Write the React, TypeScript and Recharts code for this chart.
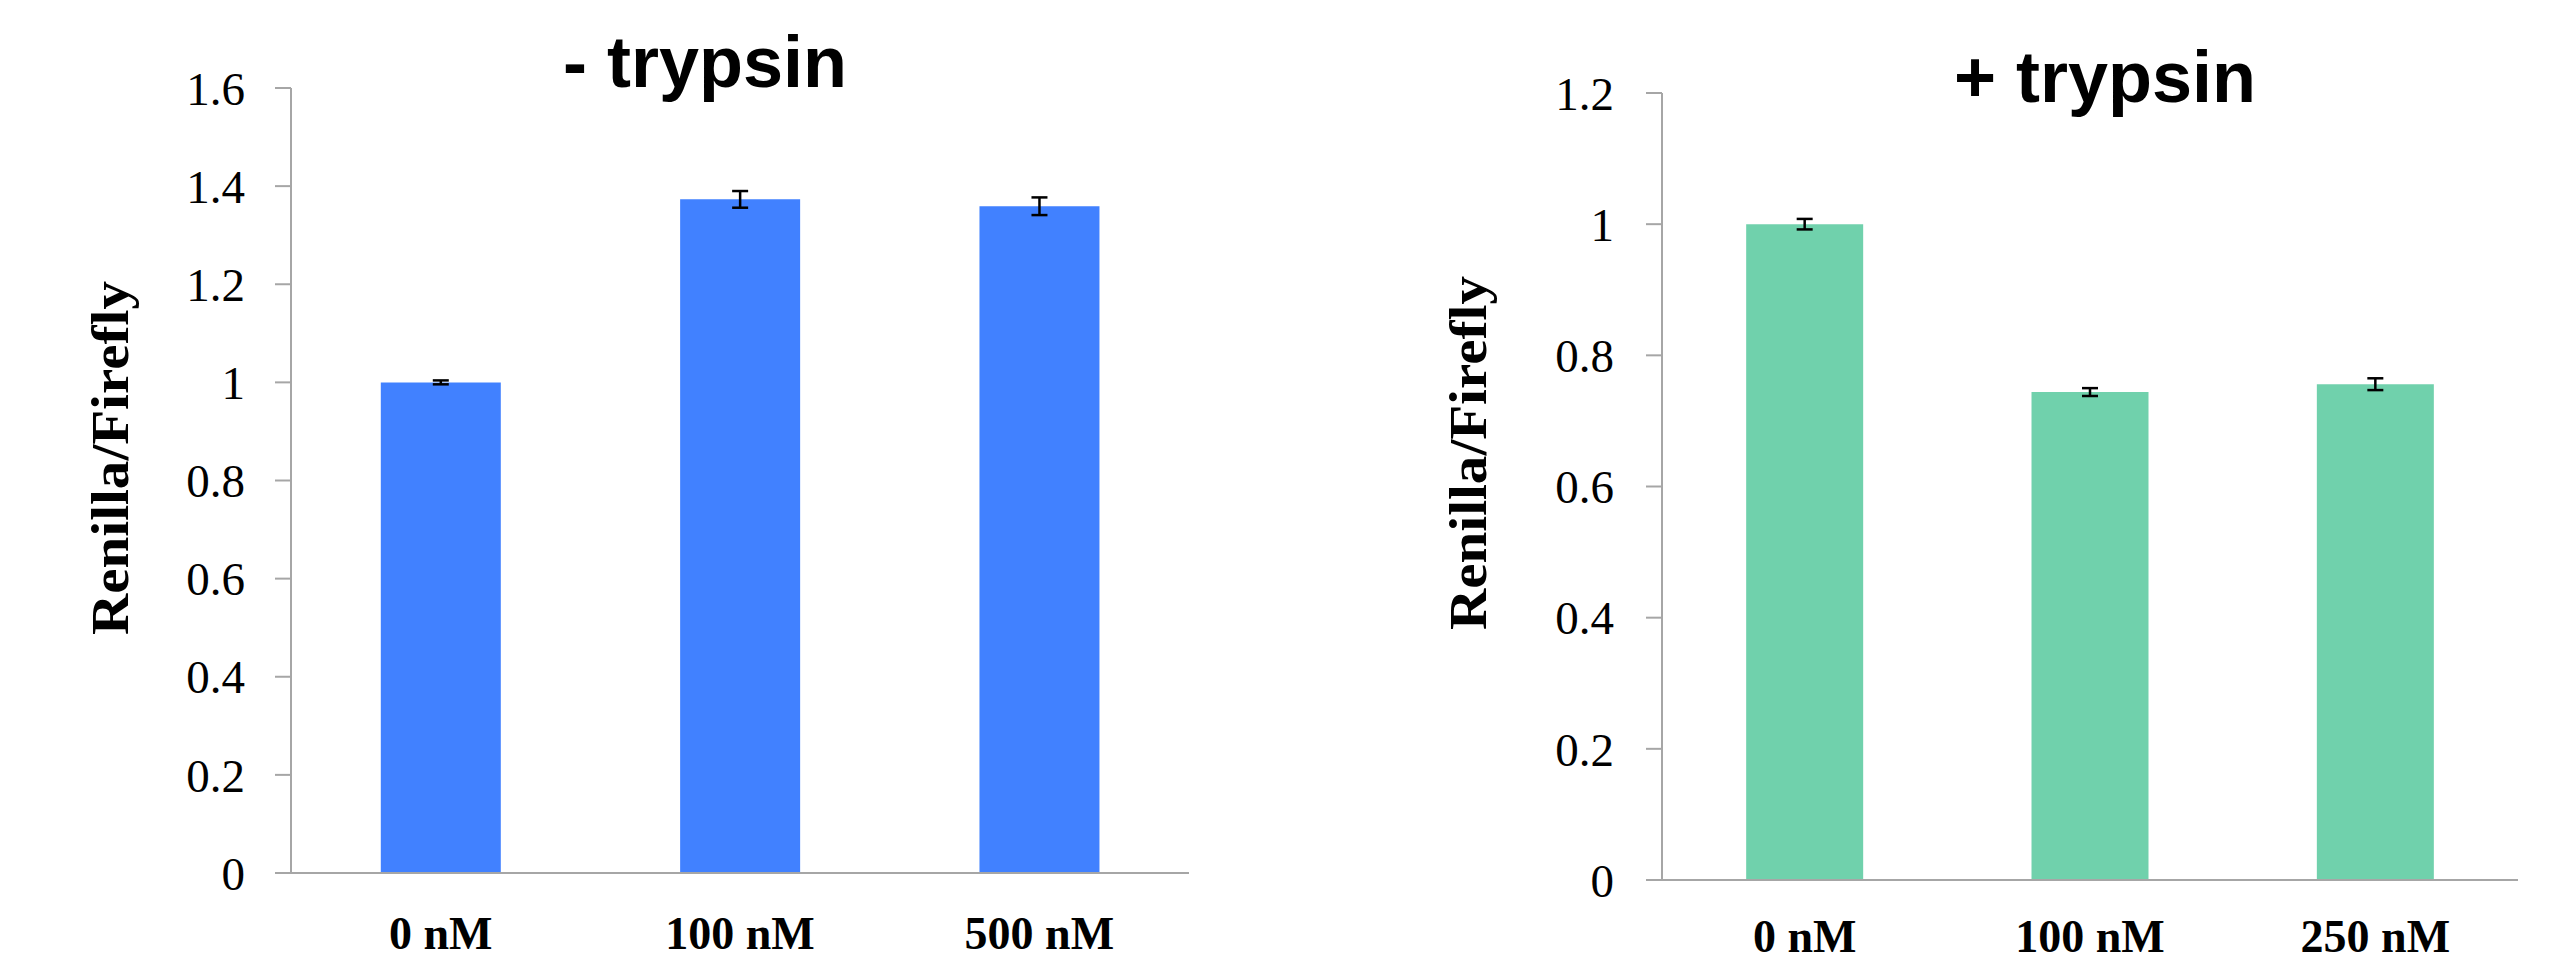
import { Bar, BarChart, ErrorBar, Label, XAxis, YAxis } from "recharts";

const leftCategories = ["0 nM", "100 nM", "500 nM"];
const leftValues = [1.0, 1.373, 1.359];
const leftErrors = [0.004, 0.017, 0.018];
const leftTicks = [0, 0.2, 0.4, 0.6, 0.8, 1, 1.2, 1.4, 1.6];

const rightCategories = ["0 nM", "100 nM", "250 nM"];
const rightValues = [1.0, 0.744, 0.756];
const rightErrors = [0.008, 0.006, 0.009];
const rightTicks = [0, 0.2, 0.4, 0.6, 0.8, 1, 1.2];

const AXIS = "#a6a6a6";
const SERIF = "Liberation Serif, Times New Roman, serif";

interface PanelProps {
  title: string;
  categories: string[];
  values: number[];
  errors: number[];
  ticks: number[];
  color: string;
  left: number;
  top: number;
  right: number;
  xAxisHeight: number;
  xTickMargin: number;
  yAxisWidth: number;
  tickMargin: number;
  labelX: number;
  labelY: number;
  titleX: number;
  titleTop: number;
  gap: string;
}

function Panel(p: PanelProps) {
  const data = p.categories.map((c, i) => ({
    name: c,
    value: p.values[i],
    err: p.errors[i],
  }));

  const renderYLabel = () => (
    <text
      x={p.labelX}
      y={p.labelY}
      transform={`rotate(-90, ${p.labelX}, ${p.labelY})`}
      textAnchor="middle"
      fontFamily={SERIF}
      fontWeight="bold"
      fontSize={52}
      fill="#000"
      textLength={354}
      lengthAdjust="spacingAndGlyphs"
    >
      Renilla/Firefly
    </text>
  );

  return (
    <div style={{ position: "absolute", left: p.left, top: 0, width: 1275, height: 963 }}>
      <div
        style={{
          position: "absolute",
          left: p.titleX - 300,
          top: p.titleTop,
          width: 600,
          textAlign: "center",
          fontFamily: "Liberation Sans, Arial, sans-serif",
          fontWeight: "bold",
          fontSize: 72,
          lineHeight: 1,
          whiteSpace: "nowrap",
        }}
      >
        {p.title}
      </div>
      <BarChart
        width={1275}
        height={963}
        data={data}
        margin={{ top: p.top, right: p.right, bottom: 0, left: 0 }}
        barCategoryGap={p.gap}
      >
        <XAxis
          dataKey="name"
          height={p.xAxisHeight}
          tickLine={false}
          tickSize={0}
          tickMargin={p.xTickMargin}
          axisLine={{ stroke: AXIS, strokeWidth: 2 }}
          tick={{ fill: "#000", fontSize: 46, fontFamily: SERIF, fontWeight: "bold" }}
          interval={0}
        />
        <YAxis
          width={p.yAxisWidth}
          domain={[p.ticks[0], p.ticks[p.ticks.length - 1]]}
          ticks={p.ticks}
          tickFormatter={(v: number) => String(Math.round(v * 10) / 10)}
          tickSize={16}
          tickMargin={p.tickMargin}
          tickLine={{ stroke: AXIS, strokeWidth: 2 }}
          axisLine={{ stroke: AXIS, strokeWidth: 2 }}
          tick={{ fill: "#000", fontSize: 47, fontFamily: SERIF }}
          interval={0}
        >
          <Label content={renderYLabel} />
        </YAxis>
        <Bar dataKey="value" fill={p.color} isAnimationActive={false}>
          <ErrorBar dataKey="err" width={8} stroke="#000" strokeWidth={2.5} isAnimationActive={false} />
        </Bar>
      </BarChart>
    </div>
  );
}

export default function App() {
  return (
    <div style={{ position: "relative", width: 2550, height: 963, margin: -8, background: "#fff" }}>
      <Panel
        title="- trypsin"
        categories={leftCategories}
        values={leftValues}
        errors={leftErrors}
        ticks={leftTicks}
        color="#4181ff"
        left={0}
        top={88}
        right={86}
        xAxisHeight={90}
        xTickMargin={43}
        yAxisWidth={291}
        tickMargin={30}
        labelX={128}
        labelY={458}
        titleX={705}
        titleTop={26}
        gap="30%"
      />
      <Panel
        title="+ trypsin"
        categories={rightCategories}
        values={rightValues}
        errors={rightErrors}
        ticks={rightTicks}
        color="#70d1ac"
        left={1275}
        top={93}
        right={32}
        xAxisHeight={83}
        xTickMargin={39}
        yAxisWidth={387}
        tickMargin={32}
        labelX={211}
        labelY={453}
        titleX={830}
        titleTop={41}
        gap="29.5%"
      />
    </div>
  );
}
